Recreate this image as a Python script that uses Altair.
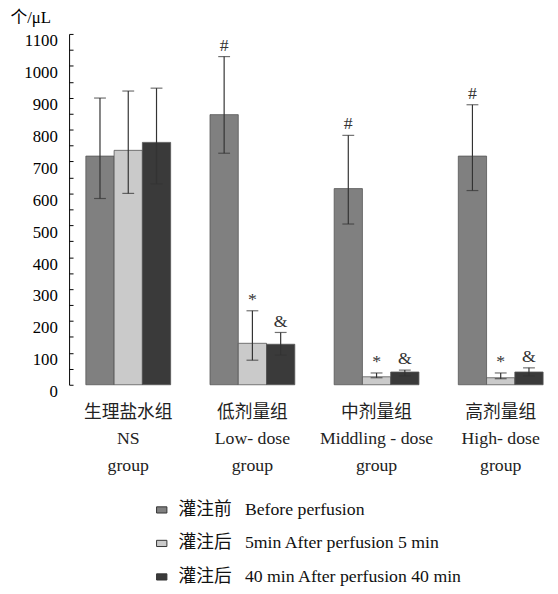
import altair as alt
import pandas as pd

FONT = "'Liberation Serif', 'Noto Sans CJK SC', serif"

groups_cn = ["生理盐水组", "低剂量组", "中剂量组", "高剂量组"]
groups_en = ["NS", "Low- dose", "Middling - dose", "High- dose"]
series = [
    "灌注前\u2002 Before perfusion",
    "灌注后\u2002 5min After perfusion 5 min",
    "灌注后\u2002 40 min After perfusion 40 min",
]

# bar heights (cells/uL)
before = [717, 847, 615, 717]
after5 = [735, 130, 25, 22]
after40 = [760, 127, 40, 40]
# error bar ends
before_lo = [584, 726, 504, 609]
before_hi = [899, 1029, 782, 878]
after5_lo = [600, 77, 22, 19]
after5_hi = [921, 232, 37, 37]
after40_lo = [630, 93, 28, 28]
after40_hi = [930, 164, 46, 53]
# significance marks
marks_before = ["", "#", "#", "#"]
marks_after5 = ["", "*", "*", "*"]
marks_after40 = ["", "&", "&", "&"]

y_ticks = list(range(0, 1101, 50))

group_labels = [f"{c}|{e}|group" for c, e in zip(groups_cn, groups_en)]
rows = []
for s, vals, los, his, mks in [
    (series[0], before, before_lo, before_hi, marks_before),
    (series[1], after5, after5_lo, after5_hi, marks_after5),
    (series[2], after40, after40_lo, after40_hi, marks_after40),
]:
    for g, v, lo, hi, m in zip(group_labels, vals, los, his, mks):
        rows.append({"group": g, "series": s, "value": v, "lo": lo, "hi": hi, "mark": m})
df = pd.DataFrame(rows)

x = alt.X(
    "group:N",
    sort=group_labels,
    scale=alt.Scale(paddingInner=0.317, paddingOuter=0.0794, align=0.85),
    axis=alt.Axis(
        title=None, domain=False, ticks=False, labelAngle=0,
        labelExpr="split(datum.label, '|')",
        labelFont=FONT, labelFontSize=18, labelLineHeight=27,
        labelPadding=19, labelColor="#222", labelLimit=300,
    ),
)
xo = alt.XOffset("series:N", sort=series)
yscale = alt.Scale(domain=[0, 1100], nice=False, zero=True)

bars = alt.Chart(df).mark_bar(stroke="#555", strokeWidth=0.8).encode(
    x=x,
    xOffset=xo,
    y=alt.Y(
        "value:Q", scale=yscale,
        axis=alt.Axis(
            orient="left", values=y_ticks, format="d",
            labelExpr="datum.value % 100 === 0 ? datum.label : ''",
            ticks=False, domain=True, domainColor="#000", domainWidth=1,
            grid=False, labelFont=FONT, labelFontSize=17, labelColor="#000",
            labelPadding=12, labelOffset=7,
            title="个/μL", titleAngle=0, titleAlign="left", titleBaseline="alphabetic",
            titleX=-60, titleY=-12, titleFont=FONT, titleFontSize=17,
            titleFontWeight="normal", titleColor="#000",
        ),
    ),
    color=alt.Color(
        "series:N", sort=series,
        scale=alt.Scale(domain=series, range=["#808080", "#cacaca", "#3a3a3a"]),
        legend=alt.Legend(
            title=None, orient="none", legendX=85, legendY=474,
            labelFont=FONT, labelFontSize=18, labelColor="#111", labelLimit=500,
            symbolType="M-1,-0.6H1V0.6H-1Z", symbolSize=110,
            symbolStrokeColor="#333", symbolStrokeWidth=1,
            rowPadding=16, labelOffset=8,
        ),
    ),
)

rules = alt.Chart(df).mark_rule(color="#333", strokeWidth=1.2).encode(
    x=x,
    xOffset=xo,
    y=alt.Y(
        "lo:Q", scale=yscale,
        axis=alt.Axis(
            orient="left", values=y_ticks, labels=False, domain=False,
            ticks=True, tickSize=4, offset=-4, tickColor="#000", grid=False,
            title=None,
        ),
    ),
    y2="hi:Q",
)

cap_lo = alt.Chart(df).mark_tick(color="#333", size=12, thickness=1.2).encode(
    x=x, xOffset=xo, y=alt.Y("lo:Q", scale=yscale, axis=None)
)
cap_hi = alt.Chart(df).mark_tick(color="#333", size=12, thickness=1.2).encode(
    x=x, xOffset=xo, y=alt.Y("hi:Q", scale=yscale, axis=None)
)

labels = alt.Chart(df).transform_filter("datum.mark != ''").mark_text(
    baseline="bottom", dy=-2, font=FONT, fontSize=18, color="#333"
).encode(
    x=x, xOffset=xo, y=alt.Y("hi:Q", scale=yscale, axis=None), text="mark:N"
)

chart = (
    alt.layer(bars, rules, cap_lo, cap_hi, labels)
    .resolve_axis(y="independent")
    .properties(
        width=484, height=356,
        padding={"left": 62, "top": 22, "right": 4, "bottom": 208},
        autosize="none",
    )
    .configure_view(stroke=None)
)

chart.save("out.html", embed_options={"renderer": "svg", "actions": False})
